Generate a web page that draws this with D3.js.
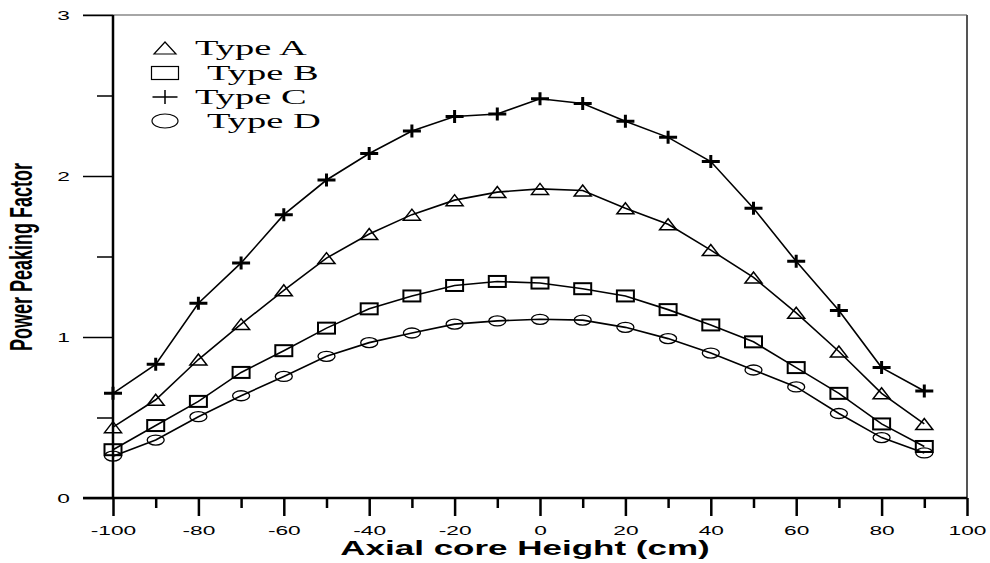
<!DOCTYPE html>
<html>
<head>
<meta charset="utf-8">
<script src="https://cdn.jsdelivr.net/npm/d3@7"></script>
<style>
  body { margin: 0; background: #fff; }
  svg { display: block; }
</style>
</head>
<body>
<svg id="chart"></svg>
<script>
// axial positions (cm)
const heights = [-100, -90, -80, -70, -60, -50, -40, -30, -20, -10, 0, 10, 20, 30, 40, 50, 60, 70, 80, 90];
const typeA = [0.44, 0.61, 0.86, 1.08, 1.29, 1.49, 1.64, 1.76, 1.85, 1.90, 1.92, 1.91, 1.80, 1.70, 1.54, 1.37, 1.15, 0.91, 0.65, 0.46];
const typeB = [0.30, 0.45, 0.60, 0.78, 0.915, 1.055, 1.175, 1.255, 1.32, 1.345, 1.335, 1.30, 1.255, 1.17, 1.075, 0.97, 0.81, 0.65, 0.46, 0.32];
const typeC = [0.65, 0.83, 1.21, 1.46, 1.76, 1.975, 2.14, 2.28, 2.37, 2.385, 2.48, 2.45, 2.34, 2.24, 2.09, 1.80, 1.47, 1.165, 0.81, 0.665];
const typeD = [0.26, 0.36, 0.505, 0.635, 0.755, 0.88, 0.965, 1.025, 1.08, 1.10, 1.11, 1.105, 1.06, 0.99, 0.90, 0.795, 0.69, 0.525, 0.375, 0.28];
const seriesNames = ["Type A", "Type B", "Type C", "Type D"];
const xMajorTicks = [-100, -80, -60, -40, -20, 0, 20, 40, 60, 80, 100];
const xMinorTicks = [-90, -70, -50, -30, -10, 10, 30, 50, 70, 90];
const yMajorTicks = [0, 1, 2, 3];
const yMinorTicks = [0.5, 1.5, 2.5];

const width = 990, height = 563;
const sx = 1.75; // the original is stretched sideways

const svg = d3.select("#chart").attr("width", width).attr("height", height);

const x = d3.scaleLinear().domain([-100, 100]).range([113, 967]);
const y = d3.scaleLinear().domain([0, 3]).range([498, 15]);

// frame
svg.append("line").attr("x1", 83).attr("x2", 967).attr("y1", 15).attr("y2", 15)
   .attr("stroke", "#888").attr("stroke-width", 1.5);
svg.append("line").attr("x1", 967).attr("x2", 967).attr("y1", 15).attr("y2", 498)
   .attr("stroke", "#555").attr("stroke-width", 2);

// x axis
const xMajor = svg.append("g").attr("transform", "translate(0,498)")
  .call(d3.axisBottom(x).tickValues(xMajorTicks).tickSize(18).tickFormat(d => String(d)));
xMajor.select(".domain").remove();
xMajor.selectAll(".tick line").attr("stroke", "#000").attr("stroke-width", 2.5);
xMajor.selectAll(".tick text")
  .attr("y", 37).attr("dy", 0)
  .attr("transform", `scale(${sx},1)`)
  .style("font-family", "Arial, 'Liberation Sans', sans-serif")
  .style("font-size", "13px").attr("fill", "#000");

const xMinor = svg.append("g").attr("transform", "translate(0,498)")
  .call(d3.axisBottom(x).tickValues(xMinorTicks).tickSize(10).tickFormat(""));
xMinor.select(".domain").remove();
xMinor.selectAll(".tick line").attr("stroke", "#000").attr("stroke-width", 2.5);

// y axis
const yMajor = svg.append("g").attr("transform", "translate(113,0)")
  .call(d3.axisLeft(y).tickValues(yMajorTicks).tickSize(30).tickFormat(d => String(d)));
yMajor.select(".domain").remove();
yMajor.selectAll(".tick line").attr("stroke", "#000").attr("stroke-width", 1.5);
yMajor.selectAll(".tick text")
  .attr("x", -43 / sx).attr("dy", "0.35em")
  .attr("transform", `scale(${sx},1)`)
  .style("font-family", "Arial, 'Liberation Sans', sans-serif")
  .style("font-size", "13px").attr("fill", "#000");

const yMinor = svg.append("g").attr("transform", "translate(113,0)")
  .call(d3.axisLeft(y).tickValues(yMinorTicks).tickSize(16).tickFormat(""));
yMinor.select(".domain").remove();
yMinor.selectAll(".tick line").attr("stroke", "#000").attr("stroke-width", 1.5);

// axis lines
svg.append("line").attr("x1", 83).attr("x2", 967).attr("y1", 498).attr("y2", 498)
   .attr("stroke", "#000").attr("stroke-width", 2.5);
svg.append("line").attr("x1", 113).attr("x2", 113).attr("y1", 15).attr("y2", 498)
   .attr("stroke", "#000").attr("stroke-width", 2.5);

// axis titles
svg.append("text")
   .attr("transform", `translate(525,555) scale(${sx},1)`)
   .attr("text-anchor", "middle")
   .style("font-family", "Arial, 'Liberation Sans', sans-serif")
   .style("font-weight", "bold").style("font-size", "20px")
   .text("Axial core Height (cm)");

svg.append("text")
   .attr("transform", `translate(32,257) scale(${sx},1) rotate(-90)`)
   .attr("text-anchor", "middle")
   .style("font-family", "Arial, 'Liberation Sans', sans-serif")
   .style("font-weight", "bold").style("font-size", "18px")
   .text("Power Peaking Factor");

// markers
function drawMarker(g, kind, w, h, sw) {
  if (kind === "tri") {
    g.append("path").attr("d", `M${-w / 2},${h / 2}L${w / 2},${h / 2}L0,${-h / 2}Z`)
     .attr("fill", "none").attr("stroke", "#000").attr("stroke-width", sw);
  } else if (kind === "sq") {
    g.append("rect").attr("x", -w / 2).attr("y", -h / 2).attr("width", w).attr("height", h)
     .attr("fill", "none").attr("stroke", "#000").attr("stroke-width", sw);
  } else if (kind === "plus") {
    g.append("path").attr("d", `M${-w / 2},0H${w / 2}M0,${-h / 2}V${h / 2}`)
     .attr("fill", "none").attr("stroke", "#000").attr("stroke-width", sw);
  } else {
    g.append("ellipse").attr("rx", w / 2).attr("ry", h / 2)
     .attr("fill", "none").attr("stroke", "#000").attr("stroke-width", sw);
  }
}

const series = [
  { name: seriesNames[0], values: typeA, kind: "tri",  w: 17, h: 11, sw: 1.5 },
  { name: seriesNames[1], values: typeB, kind: "sq",   w: 17, h: 11, sw: 2 },
  { name: seriesNames[2], values: typeC, kind: "plus", w: 18, h: 13, sw: 3 },
  { name: seriesNames[3], values: typeD, kind: "circ", w: 17, h: 10, sw: 1.3 }
];

const line = d3.line()
  .x((d, i) => x(heights[i]))
  .y(d => y(d));

series.forEach(s => {
  svg.append("path")
     .datum(s.values)
     .attr("d", line)
     .attr("fill", "none")
     .attr("stroke", "#000")
     .attr("stroke-width", 1.6);

  s.values.forEach((v, i) => {
    const g = svg.append("g").attr("transform", `translate(${x(heights[i])},${y(v)})`);
    drawMarker(g, s.kind, s.w, s.h, s.sw);
  });
});

// legend
const legendRows = [
  { kind: "tri",  cy: 48,  tx: 195, ty: 55,  w: 22, h: 12, sw: 1.2 },
  { kind: "sq",   cy: 73,  tx: 207, ty: 80,  w: 27, h: 13, sw: 1.2 },
  { kind: "plus", cy: 97,  tx: 195, ty: 104, w: 25, h: 14, sw: 1.5 },
  { kind: "circ", cy: 121, tx: 207, ty: 128, w: 26, h: 14, sw: 1.2 }
];
legendRows.forEach((r, i) => {
  const g = svg.append("g").attr("transform", `translate(165,${r.cy})`);
  drawMarker(g, r.kind, r.w, r.h, r.sw);
  svg.append("text")
     .attr("transform", `translate(${r.tx},${r.ty}) scale(${sx},1)`)
     .style("font-family", "'Times New Roman', 'Liberation Serif', serif")
     .style("font-size", "22px")
     .text(seriesNames[i]);
});
</script>
</body>
</html>
